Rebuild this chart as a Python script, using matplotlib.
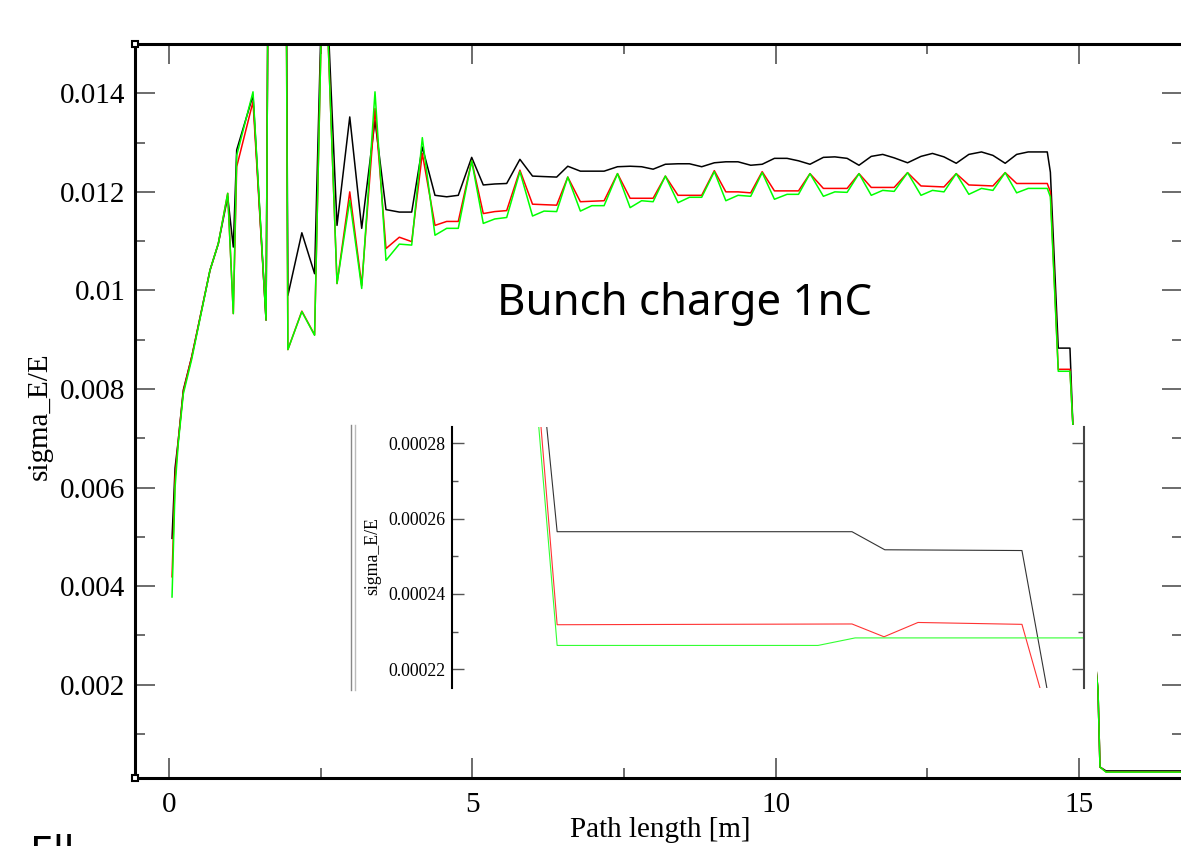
import matplotlib
matplotlib.use("Agg")
import matplotlib.pyplot as plt
from matplotlib.patches import Rectangle
from matplotlib.lines import Line2D
from matplotlib.ticker import MultipleLocator, FuncFormatter

plt.rcParams['font.family'] = ['Liberation Serif', 'DejaVu Serif']

# path length [m], shared by the three runs
s = [0.05, 0.10, 0.153, 0.236, 0.374, 0.457, 0.676, 0.813, 0.968, 1.06,
     1.116, 1.385, 1.60, 1.65, 1.92, 1.96, 2.19, 2.40, 2.55, 2.77,
     2.98, 3.177, 3.396, 3.577, 3.797, 4.001, 4.176, 4.385, 4.578, 4.769,
     4.99, 5.181, 5.37, 5.567,
     5.785, 5.993, 6.183, 6.391, 6.574, 6.782, 6.971, 7.173,
     7.394, 7.602, 7.791, 7.981, 8.183, 8.391, 8.58, 8.782,
     8.99, 9.18, 9.381, 9.59, 9.779, 9.981, 10.189, 10.378,
     10.567, 10.788, 10.977, 11.179, 11.375, 11.577, 11.766, 11.955,
     12.176, 12.397, 12.586, 12.776, 12.978, 13.186, 13.394, 13.583,
     13.785, 13.974, 14.164, 14.479,
     14.53, 14.66, 14.853, 14.90, 15.315, 15.348, 15.447, 16.70]

sig_black = [0.00497, 0.0064, 0.00696, 0.00798, 0.00865, 0.00913, 0.01041, 0.01095, 0.0119, 0.01088,
             0.01285, 0.01396, 0.0094, 0.020, 0.020, 0.0099, 0.01117, 0.01034, 0.0175, 0.01132,
             0.01352, 0.01126, 0.01345, 0.01164, 0.01159, 0.01159, 0.01291, 0.01193, 0.0119, 0.01193,
             0.0127, 0.01214, 0.01216, 0.01217,
             0.01266, 0.01232, 0.01231, 0.0123, 0.01252, 0.01242, 0.01242, 0.01242,
             0.01251, 0.01252, 0.01251, 0.01246, 0.01256, 0.01257, 0.01257, 0.01251,
             0.01259, 0.01261, 0.01261, 0.01254, 0.01256, 0.01268, 0.01268, 0.01263,
             0.01256, 0.0127, 0.01271, 0.01268, 0.01254, 0.01272, 0.01276, 0.01269,
             0.01259, 0.01272, 0.01278, 0.01271, 0.01258, 0.01276, 0.01281, 0.01274,
             0.01258, 0.01276, 0.01281, 0.01281,
             0.0124, 0.00883, 0.00883, 0.0073, 0.0019, 0.00033, 0.000252, 0.000252]

sig_red = [0.00419, 0.0062, 0.00696, 0.00795, 0.00865, 0.00913, 0.01041, 0.01095, 0.01197, 0.00953,
           0.01251, 0.01383, 0.0094, 0.020, 0.020, 0.0088, 0.00958, 0.0091, 0.0175, 0.01014,
           0.0120, 0.0101, 0.01369, 0.01085, 0.01108, 0.01099, 0.01278, 0.01132, 0.0114, 0.0114,
           0.01263, 0.01156, 0.0116, 0.01162,
           0.01244, 0.01175, 0.01174, 0.01173, 0.0123, 0.0118, 0.01181, 0.01182,
           0.01237, 0.01187, 0.01187, 0.01187, 0.01232, 0.01193, 0.01193, 0.01193,
           0.01243, 0.012, 0.012, 0.01198, 0.01241, 0.01202, 0.01202, 0.01202,
           0.01237, 0.01207, 0.01207, 0.01207, 0.01237, 0.01209, 0.01209, 0.01209,
           0.01239, 0.01212, 0.01211, 0.0121, 0.01237, 0.01214, 0.01213, 0.01212,
           0.01239, 0.01217, 0.01217, 0.01217,
           0.0120, 0.0084, 0.0084, 0.0073, 0.0019, 0.00033, 0.000232, 0.000232]

sig_green = [0.00378, 0.0060, 0.0069, 0.0079, 0.0086, 0.0091, 0.01041, 0.01095, 0.01197, 0.00953,
             0.01274, 0.01403, 0.0094, 0.020, 0.020, 0.0088, 0.00957, 0.00909, 0.0175, 0.01014,
             0.01183, 0.01004, 0.01403, 0.01061, 0.01094, 0.01092, 0.0131, 0.01112, 0.01126, 0.01126,
             0.01263, 0.01136, 0.01145, 0.01148,
             0.01241, 0.01151, 0.01161, 0.0116, 0.0123, 0.01161, 0.01172, 0.01172,
             0.01237, 0.01168, 0.01182, 0.0118, 0.01232, 0.01178, 0.01189, 0.01189,
             0.01241, 0.01182, 0.01193, 0.01191, 0.01239, 0.01185, 0.01195, 0.01195,
             0.01237, 0.01191, 0.012, 0.01199, 0.01237, 0.01193, 0.01203, 0.01201,
             0.01239, 0.01193, 0.01203, 0.012, 0.01237, 0.01195, 0.01207, 0.01203,
             0.01239, 0.01198, 0.01207, 0.01207,
             0.0119, 0.00836, 0.00836, 0.0073, 0.0019, 0.00033, 0.000228, 0.000228]

# zoomed view of the end of the line
zoom_s_black = [15.525, 15.566, 16.312, 16.395, 16.742, 16.831]
zoom_black = [0.0003, 0.0002565, 0.0002565, 0.0002517, 0.0002515, 0.0002]
zoom_s_red = [15.513, 15.566, 16.312, 16.393, 16.479, 16.742, 16.828]
zoom_red = [0.0003, 0.0002318, 0.000232, 0.0002286, 0.0002324, 0.0002319, 0.0002]
zoom_s_green = [15.507, 15.566, 16.226, 16.320, 16.95]
zoom_green = [0.0003, 0.0002263, 0.0002263, 0.0002283, 0.0002283]

W, H = 1181, 846
fig = plt.figure(figsize=(W / 100, H / 100), dpi=100)

ax = fig.add_axes([135 / W, (H - 777.7) / H, 1047 / W, (777.7 - 44) / H])
ax.plot(s, sig_black, color='black', lw=1.1)
ax.plot(s, sig_red, color='#ff0000', lw=1.1)
ax.plot(s, sig_green, color='#00ff00', lw=1.1)
ax.set_xlim(-0.5605, 16.70)
ax.set_ylim(0.000114, 0.015)
ax.xaxis.set_major_locator(MultipleLocator(5))
ax.xaxis.set_minor_locator(MultipleLocator(2.5))
ax.yaxis.set_major_locator(MultipleLocator(0.002))
ax.yaxis.set_minor_locator(MultipleLocator(0.001))
ax.yaxis.set_major_formatter(FuncFormatter(lambda v, p: '%g' % round(v, 6)))
ax.tick_params(which='both', direction='in', top=True, right=True,
               width=1.1, color='#444444', labelsize=21)
ax.tick_params(which='major', length=14.4)
ax.tick_params(which='minor', length=7.2)
ax.tick_params(axis='x', pad=10)
ax.tick_params(axis='y', pad=7)
for side in ['left', 'top', 'bottom']:
    ax.spines[side].set_linewidth(2.2)
ax.spines['right'].set_visible(False)
ax.plot([0, 0], [0, 1], 's', transform=ax.transAxes, ms=5, mfc='white',
        mec='black', mew=1.5, clip_on=False, zorder=5)

fig.text(40 / W, 1 - 416 / H, 'sigma_E/E', rotation=90, ha='center', va='center', fontsize=21)
fig.text(660 / W, 1 - 830 / H, 'Path length [m]', ha='center', va='center', fontsize=21)

fig.text(497 / W, 1 - 315 / H, 'Bunch charge 1nC', fontsize=31.5, family=['Noto Sans', 'DejaVu Sans'],
         va='baseline', ha='left')
fig.text(30 / W, 1 - 866 / H, 'Ell', fontsize=30, family=['Noto Sans', 'DejaVu Sans'],
         va='baseline', ha='left')

# white box behind the zoomed view
fig.add_artist(Rectangle((350 / W, (H - 690) / H), 747 / W, 265 / H, transform=fig.transFigure,
                         facecolor='white', edgecolor='none', zorder=2))
for xx, cc in [(351, '#888888'), (355, '#bbbbbb')]:
    fig.add_artist(Line2D([xx / W, xx / W], [(H - 690) / H, (H - 425) / H], transform=fig.transFigure,
                          color=cc, lw=1.0, zorder=3))

axin = fig.add_axes([452 / W, (H - 688) / H, 632 / W, 261 / H])
axin.set_zorder(3)
axin.plot(zoom_s_black, zoom_black, color='#333333', lw=0.8)
axin.plot(zoom_s_red, zoom_red, color='#ff3333', lw=0.8)
axin.plot(zoom_s_green, zoom_green, color='#33ff33', lw=0.8)
axin.set_xlim(15.3, 16.899)
axin.set_ylim(0.000215, 0.0002843)
axin.yaxis.set_major_locator(MultipleLocator(0.00002))
axin.yaxis.set_minor_locator(MultipleLocator(0.00001))
axin.yaxis.set_major_formatter(FuncFormatter(lambda v, p: '%g' % round(v, 7)))
axin.tick_params(axis='x', which='both', bottom=False, top=False, labelbottom=False)
axin.tick_params(axis='y', which='both', direction='in', right=True, color='#555555',
                 width=1.0, labelsize=12.8, pad=5)
axin.tick_params(axis='y', which='major', length=8.6)
axin.tick_params(axis='y', which='minor', length=4.3)
axin.spines['top'].set_visible(False)
axin.spines['bottom'].set_visible(False)
axin.spines['left'].set_linewidth(1.5)
axin.spines['right'].set_linewidth(1.5)
axin.spines['right'].set_color('#444444')
fig.text(373 / W, 1 - 556 / H, 'sigma_E/E', rotation=90, ha='center', va='center', fontsize=12.8)

fig.savefig('out.png', dpi=100)
